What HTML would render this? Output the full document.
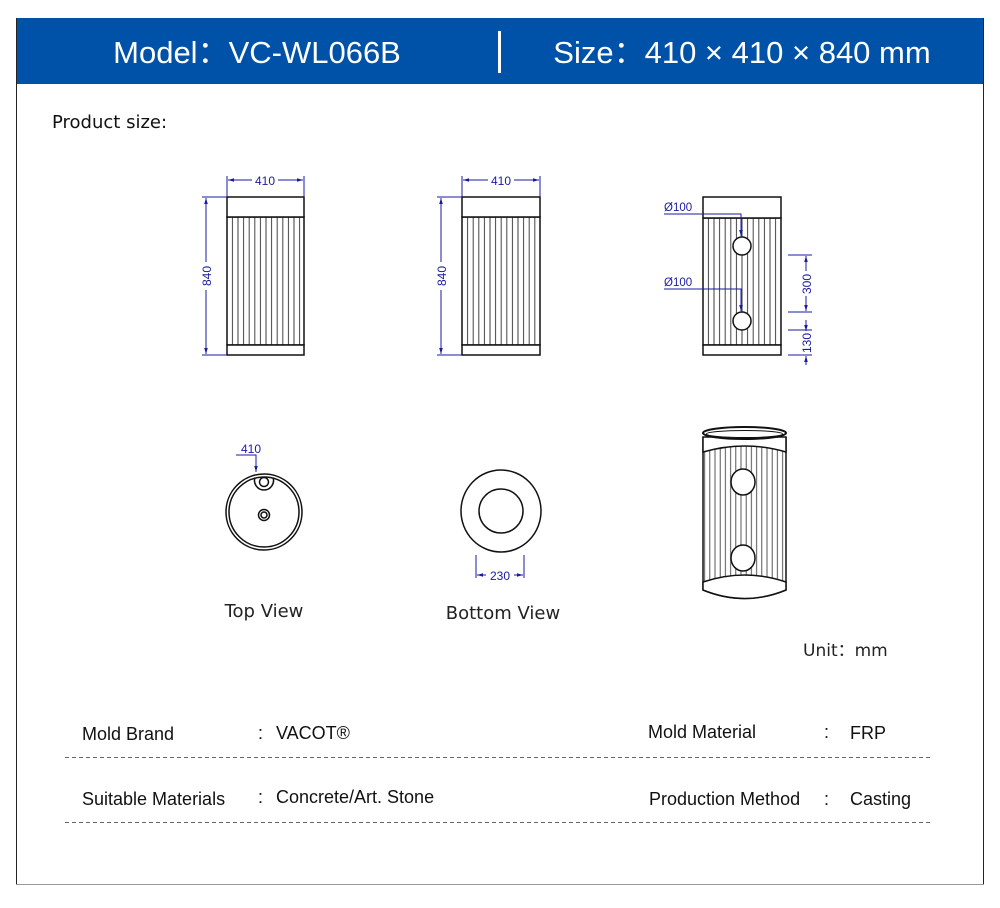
<!DOCTYPE html>
<html><head><meta charset="utf-8"><style>
body{margin:0;background:#fff;width:1000px;height:903px;overflow:hidden;font-family:"Liberation Sans",sans-serif}
</style></head><body>
<svg width="1000" height="903" viewBox="0 0 1000 903" xmlns="http://www.w3.org/2000/svg" font-family="Liberation Sans, sans-serif">
<defs>
<pattern id="fl" x="0" y="0" width="5.6" height="10" patternUnits="userSpaceOnUse">
<rect width="5.6" height="10" fill="#fff"/><line x1="2.8" y1="0" x2="2.8" y2="10" stroke="#444" stroke-width="1"/></pattern>
<pattern id="fl2" x="0" y="0" width="5.2" height="10" patternUnits="userSpaceOnUse">
<rect width="5.2" height="10" fill="#fff"/><line x1="2.6" y1="0" x2="2.6" y2="10" stroke="#444" stroke-width="0.9"/></pattern>
<marker id="ar" viewBox="0 0 10 10" refX="10" refY="5" markerWidth="6" markerHeight="6" orient="auto-start-reverse"><path d="M0,2 L10,5 L0,8z" fill="#1a1aa0"/></marker>
</defs>
<rect x="0" y="0" width="1000" height="903" fill="#fff"/>
<line x1="16.5" y1="18" x2="16.5" y2="884" stroke="#222" stroke-width="1"/>
<line x1="983.5" y1="18" x2="983.5" y2="884" stroke="#222" stroke-width="1"/>
<line x1="16" y1="884.5" x2="984" y2="884.5" stroke="#999" stroke-width="1"/>
<rect x="17" y="18" width="966" height="66" fill="#0051a8"/>
<text x="257" y="63" fill="#fff" font-size="31" text-anchor="middle">Model：VC-WL066B</text>
<rect x="498" y="31" width="3" height="42" fill="#fff"/>
<text x="742" y="63" fill="#fff" font-size="31" text-anchor="middle">Size：410 × 410 × 840 mm</text>
<text x="52" y="128" font-size="18" fill="#111" font-family="DejaVu Sans, sans-serif">Product size:</text>

<g stroke="#111" stroke-width="1.5">
<rect x="227" y="217" width="77" height="128" fill="url(#fl)"/>
<rect x="227" y="197" width="77" height="20" fill="#fff"/>
<rect x="227" y="345" width="77" height="10" fill="#fff"/>
<rect x="462" y="217" width="78" height="128" fill="url(#fl)"/>
<rect x="462" y="197" width="78" height="20" fill="#fff"/>
<rect x="462" y="345" width="78" height="10" fill="#fff"/>
<rect x="703" y="218" width="78" height="127" fill="url(#fl)"/>
<rect x="703" y="197" width="78" height="21" fill="#fff"/>
<rect x="703" y="345" width="78" height="10" fill="#fff"/>
<circle cx="742" cy="246" r="9" fill="#fff"/>
<circle cx="742" cy="321" r="9" fill="#fff"/>
</g>
<g stroke="#1a1aa0" stroke-width="1" fill="none">
<line x1="227" y1="176" x2="227" y2="197"/><line x1="304" y1="176" x2="304" y2="197"/>
<line x1="228" y1="180" x2="252" y2="180" marker-start="url(#ar)"/><line x1="278" y1="180" x2="303" y2="180" marker-end="url(#ar)"/>
<line x1="202" y1="197" x2="227" y2="197"/><line x1="202" y1="355" x2="227" y2="355"/>
<line x1="206" y1="198" x2="206" y2="262" marker-start="url(#ar)"/><line x1="206" y1="290" x2="206" y2="354" marker-end="url(#ar)"/>
<line x1="462" y1="176" x2="462" y2="197"/><line x1="540" y1="176" x2="540" y2="197"/>
<line x1="463" y1="180" x2="488" y2="180" marker-start="url(#ar)"/><line x1="514" y1="180" x2="539" y2="180" marker-end="url(#ar)"/>
<line x1="437" y1="197" x2="462" y2="197"/><line x1="437" y1="355" x2="462" y2="355"/>
<line x1="441" y1="198" x2="441" y2="262" marker-start="url(#ar)"/><line x1="441" y1="290" x2="441" y2="354" marker-end="url(#ar)"/>
<polyline points="664,214 741,214 741,236" marker-end="url(#ar)"/>
<polyline points="664,289 741,289 741,311" marker-end="url(#ar)"/>
<line x1="788" y1="255" x2="812" y2="255"/><line x1="788" y1="312" x2="812" y2="312"/>
<line x1="788" y1="330" x2="812" y2="330"/><line x1="788" y1="355" x2="812" y2="355"/>
<line x1="806" y1="256" x2="806" y2="271" marker-start="url(#ar)"/><line x1="806" y1="296" x2="806" y2="311" marker-end="url(#ar)"/>
<line x1="806" y1="320" x2="806" y2="331" marker-end="url(#ar)"/><line x1="806" y1="365" x2="806" y2="356" marker-end="url(#ar)"/>
<polyline points="236,455 256,455 256,472" marker-end="url(#ar)"/>
<line x1="476" y1="555" x2="476" y2="578"/><line x1="524" y1="555" x2="524" y2="578"/>
<line x1="477" y1="575" x2="486" y2="575" marker-start="url(#ar)"/><line x1="514" y1="575" x2="523" y2="575" marker-end="url(#ar)"/>
</g>
<g fill="#1a1aa0" font-size="12">
<text x="265" y="185" text-anchor="middle">410</text>
<text x="501" y="185" text-anchor="middle">410</text>
<text transform="translate(211,276) rotate(-90)" text-anchor="middle">840</text>
<text transform="translate(446,276) rotate(-90)" text-anchor="middle">840</text>
<text x="664" y="211" font-size="11.5">Ø100</text>
<text x="664" y="286" font-size="11.5">Ø100</text>
<text transform="translate(811,284) rotate(-90)" text-anchor="middle">300</text>
<text transform="translate(811,343) rotate(-90)" text-anchor="middle">130</text>
<text x="251" y="453" text-anchor="middle">410</text>
<text x="500" y="580" text-anchor="middle">230</text>
</g>
<g stroke="#111" stroke-width="1.5" fill="none">
<circle cx="264" cy="512" r="38"/>
<circle cx="264" cy="512" r="35"/>
<path d="M255,477.5 A9.5,9.5 0 1 0 273,477.5"/>
<circle cx="264" cy="482" r="4.5"/>
<circle cx="264" cy="515" r="5.5"/><circle cx="264" cy="515" r="3"/>
<ellipse cx="501" cy="511" rx="40" ry="41"/>
<circle cx="501" cy="511" r="22"/>
</g>
<g stroke="#111" stroke-width="1.5">
<path d="M703,437 L703,590 Q745,607 786,590 L786,437" fill="url(#fl2)"/>
<path d="M703,437 L703,452 Q745,440 786,452 L786,437 Z" fill="#fff"/>
<path d="M703,582 Q745,568 786,582 L786,590 Q745,607 703,590 Z" fill="#fff"/>
<ellipse cx="744.5" cy="433" rx="41.5" ry="6" fill="#fff" stroke-width="2"/>
<ellipse cx="744.5" cy="434" rx="38" ry="3.5" fill="none" stroke-width="1"/>
<ellipse cx="743" cy="482" rx="12" ry="13" fill="#fff"/>
<ellipse cx="743" cy="558" rx="12" ry="13" fill="#fff"/>
</g>
<g font-family="DejaVu Sans, sans-serif" fill="#222" font-size="18">
<text x="264" y="617" text-anchor="middle">Top View</text>
<text x="503" y="619" text-anchor="middle">Bottom View</text>
<text x="803" y="656" font-size="17">Unit：mm</text>
</g>
<g font-size="18" fill="#111">
<text x="82" y="740">Mold Brand</text>
<text x="258" y="739">:</text><text x="276" y="739">VACOT®</text>
<text x="648" y="738">Mold Material</text>
<text x="824" y="738">:</text><text x="850" y="739">FRP</text>
<text x="82" y="805">Suitable Materials</text>
<text x="258" y="803">:</text><text x="276" y="803">Concrete/Art. Stone</text>
<text x="649" y="805">Production Method</text>
<text x="824" y="805">:</text><text x="850" y="805">Casting</text>
</g>
<g stroke="#666" stroke-width="1" stroke-dasharray="4,3">
<line x1="65" y1="757.5" x2="933" y2="757.5"/>
<line x1="65" y1="822.5" x2="933" y2="822.5"/>
</g>
</svg>
</body></html>
